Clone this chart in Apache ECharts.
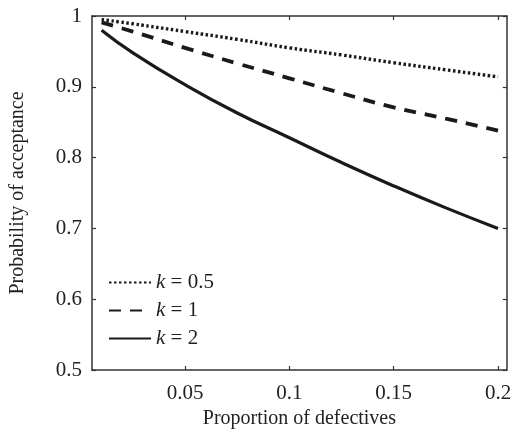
<!DOCTYPE html>
<html>
<head>
<meta charset="utf-8">
<script src="https://cdn.jsdelivr.net/npm/echarts@6/dist/echarts.min.js"></script>
<style>html,body{margin:0;padding:0;background:#fff}#c{width:514px;height:434px}</style>
</head>
<body>
<div id="c"></div>
<script>
const proportions = [0.01, 0.025, 0.05, 0.075, 0.1, 0.125, 0.15, 0.175, 0.2];
const kHalf = [0.995, 0.989, 0.978, 0.967, 0.955, 0.945, 0.934, 0.924, 0.914];
const kOne  = [0.991, 0.978, 0.955, 0.933, 0.912, 0.891, 0.871, 0.855, 0.838];
const kTwo  = [0.980, 0.948, 0.903, 0.863, 0.828, 0.793, 0.760, 0.729, 0.700];
const kLabels = ['0.5', '1', '2'];
const xTicks = [0.05, 0.1, 0.15, 0.2];
const yTicks = [0.5, 0.6, 0.7, 0.8, 0.9, 1];

const FONT = "'Liberation Serif','Times New Roman',serif";
const INK = '#222';
const pair = arr => proportions.map((p, i) => [p, arr[i]]);
const fmtY = v => (Math.abs(v - 1) < 1e-9 ? '1' : String(+v.toFixed(1)));

const axisLineStyle = { lineStyle: { color: '#333', width: 1.5 } };
const tickIn = { inside: true, length: 4, lineStyle: { color: '#333', width: 1.2 } };

const chart = echarts.init(document.getElementById('c'), null, { renderer: 'canvas' });
chart.setOption({
  animation: false,
  backgroundColor: '#fff',
  textStyle: { fontFamily: FONT, color: INK },
  grid: { left: 85, right: 1, top: 16, bottom: 63 },
  legend: {
    orient: 'vertical',
    left: 103,
    top: 267,
    itemWidth: 42,
    itemHeight: 14,
    itemGap: 7,
    itemStyle: { opacity: 0 },
    data: ['k = ' + kLabels[0], 'k = ' + kLabels[1], 'k = ' + kLabels[2]],
    formatter: name => '{i|k}{n|' + name.slice(1) + '}',
    textStyle: {
      fontFamily: FONT, fontSize: 21, color: INK,
      rich: {
        i: { fontFamily: FONT, fontSize: 21, fontStyle: 'italic', color: INK },
        n: { fontFamily: FONT, fontSize: 21, color: INK }
      }
    }
  },
  xAxis: [{
    type: 'value', min: 0.0054, max: 0.2042,
    name: 'Proportion of defectives', nameLocation: 'middle', nameGap: 39,
    nameTextStyle: { fontFamily: FONT, fontSize: 20, color: INK },
    axisLine: axisLineStyle,
    axisTick: Object.assign({ customValues: xTicks }, tickIn),
    axisLabel: { customValues: xTicks, fontFamily: FONT, fontSize: 21, color: INK, margin: 13, formatter: v => String(+v.toFixed(2)) },
    splitLine: { show: false }
  }, {
    type: 'value', position: 'top', min: 0.0054, max: 0.2042,
    axisLine: axisLineStyle,
    axisTick: Object.assign({ customValues: xTicks }, tickIn),
    axisLabel: { show: false },
    splitLine: { show: false }
  }],
  yAxis: [{
    type: 'value', min: 0.5, max: 1, interval: 0.1,
    name: 'Probability of acceptance', nameLocation: 'middle', nameGap: 64,
    nameTextStyle: { fontFamily: FONT, fontSize: 20, color: INK },
    axisLine: axisLineStyle,
    axisTick: tickIn,
    axisLabel: { fontFamily: FONT, fontSize: 21, color: INK, margin: 10, formatter: fmtY },
    splitLine: { show: false }
  }, {
    type: 'value', position: 'right', min: 0.5, max: 1, interval: 0.1,
    axisLine: axisLineStyle,
    axisTick: tickIn,
    axisLabel: { show: false },
    splitLine: { show: false }
  }],
  series: [
    { name: 'k = ' + kLabels[0], type: 'line', smooth: true, symbol: 'none', data: pair(kHalf),
      lineStyle: { color: '#1a1a1a', width: 3.4, type: [2.5, 2.5] }, itemStyle: { color: '#1a1a1a' } },
    { name: 'k = ' + kLabels[1], type: 'line', smooth: true, symbol: 'none', data: pair(kOne),
      lineStyle: { color: '#1a1a1a', width: 3.8, type: [12, 9] }, itemStyle: { color: '#1a1a1a' } },
    { name: 'k = ' + kLabels[2], type: 'line', smooth: true, symbol: 'none', data: pair(kTwo),
      lineStyle: { color: '#1a1a1a', width: 3.2, type: 'solid' }, itemStyle: { color: '#1a1a1a' } }
  ]
});
</script>
</body>
</html>
